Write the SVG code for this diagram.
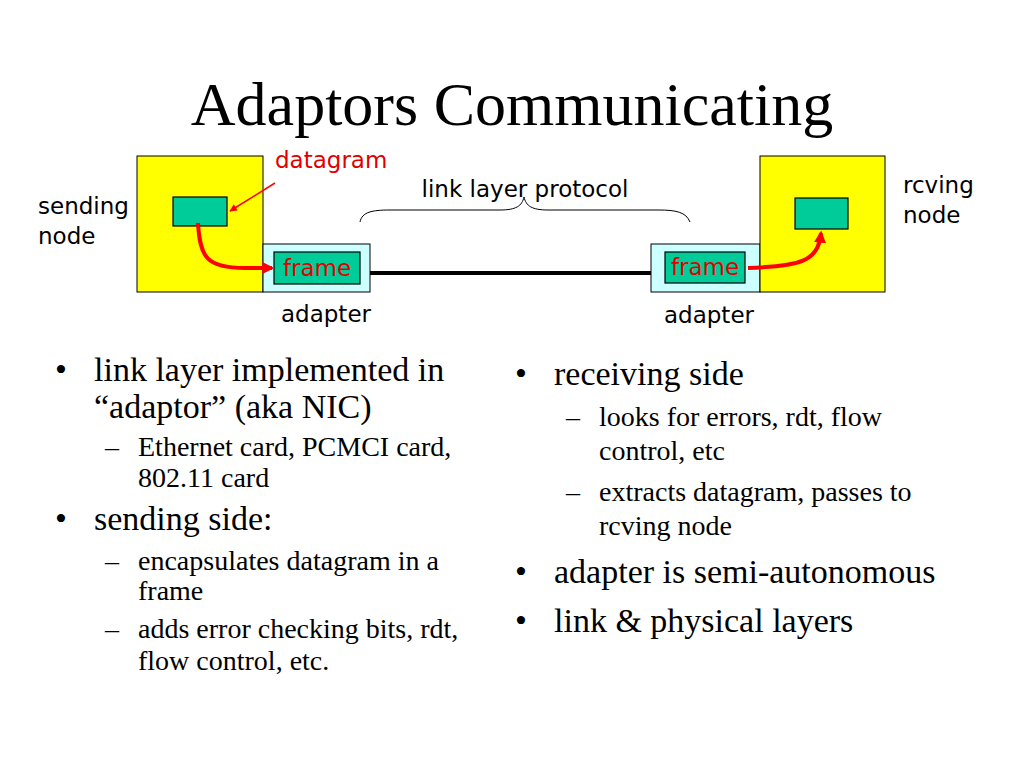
<svg xmlns="http://www.w3.org/2000/svg" width="1024" height="768" viewBox="0 0 1024 768">
<defs>
<style>
.title{font-family:"Liberation Serif",serif;font-size:62px;fill:#000}
.lbl{font-family:"DejaVu Sans","Noto Sans",sans-serif;font-size:23px;fill:#000}
.red{fill:#e00000}
.b1{font-family:"Liberation Serif",serif;font-size:34px;fill:#000}
.b2{font-family:"Liberation Serif",serif;font-size:28px;fill:#000}
.node{fill:#ffff00;stroke:#000;stroke-width:1}
.adp{fill:#ccffff;stroke:#000;stroke-width:1}
.pkt{fill:#00cc99;stroke:#000;stroke-width:1.2}
</style>
<marker id="ah" viewBox="0 0 10 10" refX="9" refY="5" markerWidth="6" markerHeight="5" orient="auto" markerUnits="strokeWidth">
<path d="M0,0 L10,5 L0,10 z" fill="#ff0000"/>
</marker>
<marker id="ahs" viewBox="0 0 10 10" refX="8" refY="5" markerWidth="3.2" markerHeight="3" orient="auto" markerUnits="strokeWidth">
<path d="M0,0 L10,5 L0,10 z" fill="#ff0000"/>
</marker>
</defs>
<rect width="1024" height="768" fill="#fff"/>
<text class="title" x="512" y="125" text-anchor="middle">Adaptors Communicating</text>

<g id="sending-node">
<rect class="node" x="137" y="156" width="126" height="136"/>
<rect class="pkt" x="173" y="197" width="54" height="29"/>
<text class="lbl" x="38" y="214">sending</text>
<text class="lbl" x="38" y="244">node</text>
</g>
<g id="sending-adapter">
<rect class="adp" x="263" y="244" width="107" height="48"/>
<rect class="pkt" x="274" y="252" width="86" height="32"/>
<text class="lbl red" x="317" y="276" text-anchor="middle">frame</text>
<text class="lbl" x="326" y="322" text-anchor="middle">adapter</text>
</g>
<g id="receiving-adapter">
<rect class="adp" x="651" y="244" width="109" height="48"/>
<rect class="pkt" x="665" y="252" width="80" height="31"/>
<text class="lbl red" x="705" y="275" text-anchor="middle">frame</text>
<text class="lbl" x="709" y="323" text-anchor="middle">adapter</text>
</g>
<g id="receiving-node">
<rect class="node" x="760" y="156" width="125" height="136"/>
<rect class="pkt" x="795" y="198" width="53" height="31"/>
<text class="lbl" x="903" y="193">rcving</text>
<text class="lbl" x="903" y="223">node</text>
</g>
<g id="datagram-label">
<text class="lbl red" x="275" y="168">datagram</text>
</g>
<g id="protocol-label">
<text class="lbl" x="525" y="197" text-anchor="middle">link layer protocol</text>
<path d="M360,222 C362,212 372,210 390,210 L500,210 C516,210 522,206 524,197 C526,206 532,210 548,210 L658,210 C676,210 686,212 690,222" fill="none" stroke="#000" stroke-width="1"/>
</g>
<g id="connectors">
<line x1="370" y1="273" x2="651" y2="273" stroke="#000" stroke-width="4"/>
<line x1="275" y1="183" x2="230" y2="211" stroke="#ff0000" stroke-width="1.5" marker-end="url(#ah)"/>
<path d="M198,223 C200,258 207,268 245,268 L272,268" fill="none" stroke="#ff0000" stroke-width="4" marker-end="url(#ahs)"/>
<path d="M748,268 C800,266 818,262 821,233" fill="none" stroke="#ff0000" stroke-width="4" marker-end="url(#ahs)"/>
</g>

<g id="left-bullets">
<text class="b1" x="55" y="381">•</text>
<text class="b1" x="94" y="381">link layer implemented in</text>
<text class="b1" x="94" y="418">“adaptor” (aka NIC)</text>
<text class="b2" x="105" y="456">–</text>
<text class="b2" x="138" y="456">Ethernet card, PCMCI card,</text>
<text class="b2" x="138" y="487">802.11 card</text>
<text class="b1" x="55" y="530">•</text>
<text class="b1" x="94" y="530">sending side:</text>
<text class="b2" x="105" y="570">–</text>
<text class="b2" x="138" y="570">encapsulates datagram in a</text>
<text class="b2" x="138" y="600">frame</text>
<text class="b2" x="105" y="638">–</text>
<text class="b2" x="138" y="638">adds error checking bits, rdt,</text>
<text class="b2" x="138" y="670">flow control, etc.</text>
</g>
<g id="right-bullets">
<text class="b1" x="515" y="385">•</text>
<text class="b1" x="554" y="385">receiving side</text>
<text class="b2" x="566" y="426">–</text>
<text class="b2" x="599" y="426">looks for errors, rdt, flow</text>
<text class="b2" x="599" y="460">control, etc</text>
<text class="b2" x="566" y="501">–</text>
<text class="b2" x="599" y="501">extracts datagram, passes to</text>
<text class="b2" x="599" y="535">rcving node</text>
<text class="b1" x="515" y="583">•</text>
<text class="b1" x="554" y="583">adapter is semi-autonomous</text>
<text class="b1" x="515" y="632">•</text>
<text class="b1" x="554" y="632">link &amp; physical layers</text>
</g>
</svg>
